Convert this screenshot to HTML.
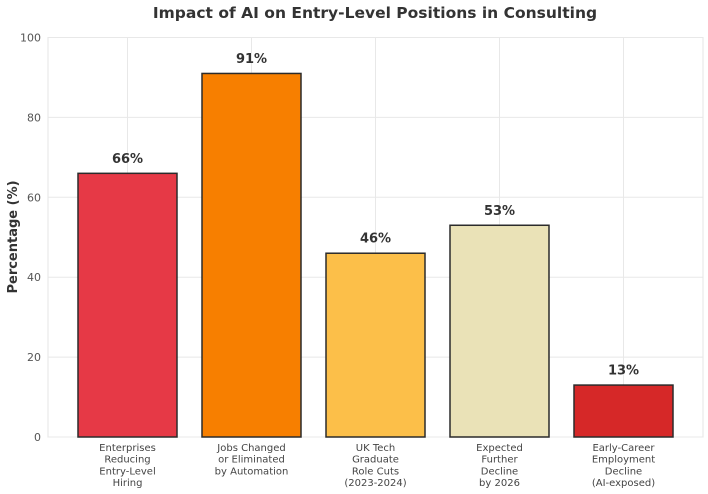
<!DOCTYPE html>
<html><head><meta charset="utf-8"><style>
body{margin:0;background:#fff;}
svg{display:block;font-family:"DejaVu Sans","Liberation Sans",sans-serif;}
</style></head><body>
<svg id="chart" width="708" height="494">
<text x="375" y="18" text-anchor="middle" font-size="15.5" font-weight="bold" fill="#333">Impact of AI on Entry-Level Positions in Consulting</text>
<text transform="translate(17,237) rotate(-90)" text-anchor="middle" font-size="13" font-weight="bold" fill="#333">Percentage (%)</text>
<g id="grid"></g><g id="bars"></g><g id="labels"></g>
</svg>
<script>
const categories=[["Enterprises","Reducing","Entry-Level","Hiring"],["Jobs Changed","or Eliminated","by Automation"],["UK Tech","Graduate","Role Cuts","(2023-2024)"],["Expected","Further","Decline","by 2026"],["Early-Career","Employment","Decline","(AI-exposed)"]];
const values=[66,91,46,53,13];
const colors=["#e63946","#f77f00","#fcbf49","#eae2b7","#d62828"];
const yTicks=[0,20,40,60,80,100];
const ns="http://www.w3.org/2000/svg";
const L=48,R=703,T=37.5,B=437;
const y=v=>B-(v/100)*(B-T);
const x=i=>127.5+124*i;
const bw=99;
function mk(tag,attrs,parent,text){const e=document.createElementNS(ns,tag);for(const k in attrs)e.setAttribute(k,attrs[k]);if(text!==undefined)e.textContent=text;parent.appendChild(e);return e;}
const grid=document.getElementById('grid'),bars=document.getElementById('bars'),labels=document.getElementById('labels');
mk('rect',{x:L,y:T,width:R-L,height:B-T,fill:'none',stroke:'#e4e4e4'},grid);
yTicks.forEach(t=>{
  const l=mk('line',{x1:L,x2:R,y1:y(t),y2:y(t),stroke:'#e8e8e8'},grid);
  
  
  const tx=mk('text',{x:L-7,y:y(t)+4,'text-anchor':'end','font-size':11,fill:'#555'},labels,String(t));
  
  
});
categories.forEach((c,i)=>{
  const l=mk('line',{x1:x(i),x2:x(i),y1:T,y2:B,stroke:'#e8e8e8'},grid);
  
  
  const r=mk('rect',{x:x(i)-bw/2,y:y(values[i]),width:bw,height:B-y(values[i]),fill:colors[i],stroke:'#2b2b2b','stroke-width':1.5},bars);
  
  
  const v=mk('text',{x:x(i),y:y(values[i])-10.5,'text-anchor':'middle','font-size':13,'font-weight':'bold',fill:'#333'},labels,values[i]+'%');
  
  
  c.forEach((line,j)=>{
    const t=mk('text',{x:x(i),y:451+j*11.7,'text-anchor':'middle','font-size':10,fill:'#444'},labels,line);
    
    
  });
});
</script>
</body></html>
